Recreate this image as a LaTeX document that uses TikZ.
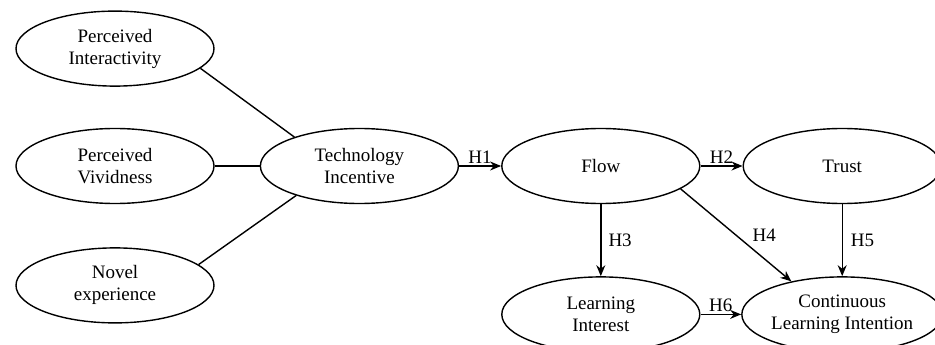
\documentclass[tikz,border=0pt]{standalone}
\usepackage{fontspec}
\setmainfont{Liberation Serif}
\usetikzlibrary{positioning,shapes.geometric,arrows.meta}

\begin{document}
\begin{tikzpicture}[x=1pt,y=1pt,
				construct/.style={ellipse, draw=black, line width=1.4pt, minimum width=198pt, minimum height=75pt, inner sep=0pt, align=center, font=\fontsize{19}{22}\selectfont},
				path/.style={line width=1.4pt, -{Stealth[length=11pt,width=9pt]}},
				link/.style={line width=1.4pt},
				hyp/.style={font=\fontsize{19}{22}\selectfont, inner sep=2pt}
			]
			\useasboundingbox (0,0) rectangle (935,-345);
			\node[construct] (vivid) at (115,-166) {Perceived\\Vividness};
			\node[construct] (interact) [above=41pt of vivid] {Perceived\\Interactivity};
			\node[construct] (novel) [below=43pt of vivid] {Novel\\experience};
			\node[construct] (incentive) [right=45pt of vivid] {Technology\\Incentive};
			\node[construct] (flow) [right=42pt of incentive] {Flow};
			\node[construct] (trust) [right=42pt of flow] {Trust};
			\node[construct] (interest) [below=72pt of flow] {Learning\\Interest};
			\node[construct] (intention) [below=72pt of trust] {Continuous\\Learning Intention};
			\draw[link] (interact.-13) -- (incentive.156);
			\draw[link] (vivid.east) -- (incentive.west);
			\draw[link] (novel.14) -- (incentive.205);
			\begin{scope}[path]
			\draw (incentive.east) -- (flow.west) node[hyp, midway, above] {H1};
			\draw (flow.east) -- (trust.west) node[hyp, midway, above] {H2};
			\draw (flow.south) -- (interest.north) node[hyp, midway, right=5pt] {H3};
			\draw (flow.-16) -- (intention.147) node[hyp, midway, right=14pt] {H4};
			\draw (trust.south) -- (intention.north) node[hyp, midway, right=6pt] {H5};
			\draw (interest.east) -- (intention.west) node[hyp, midway, above] {H6};
			\end{scope}
			\end{tikzpicture}
\end{document}
